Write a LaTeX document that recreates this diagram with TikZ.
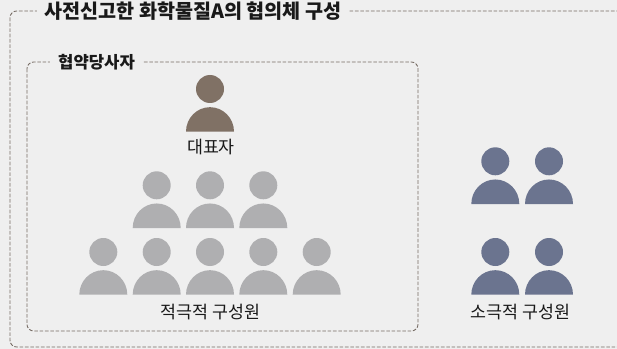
\documentclass[tikz,border=0pt]{standalone}
\usepackage{fontspec}
\setmainfont{Noto Sans CJK KR}
\definecolor{bggrey}{RGB}{239,239,239}
\definecolor{linegrey}{RGB}{118,108,100}
\definecolor{chief}{RGB}{128,113,101}
\definecolor{active}{RGB}{175,175,177}
\definecolor{passive}{RGB}{107,116,143}
\definecolor{ink}{RGB}{25,25,25}
\tikzstyle{base}=[x=0.75pt, y=-0.75pt, inner sep=0pt, outer sep=0pt]
\tikzstyle{frame}=[linegrey, line width=0.65pt, dash pattern=on 2.7pt off 1.3pt, rounded corners=5pt]
\tikzstyle{caption}=[ink, font=\fontsize{13}{15}\selectfont]
\tikzstyle{heading}=[ink, fill=bggrey, inner xsep=6pt, font=\fontsize{12.5}{15}\selectfont\bfseries]
\tikzstyle{bigheading}=[heading, font=\fontsize{14.7}{18}\selectfont\bfseries]
\newcommand*{\person}[3]{%
    \fill [#1] (#2,#3) circle [radius=10.5pt];
    \fill [#1] (#2-24,#3+42.7) arc [start angle=180, end angle=0, x radius=18pt, y radius=18.4pt] -- cycle;
}

\begin{document}
\begin{tikzpicture}[base]
    \path [use as bounding box, fill=bggrey] (0,0) rectangle (617,349);
    \draw [frame] (10,11) rectangle (640,347);
    \draw [frame] (27,62) rectangle (418,331);
    \node [bigheading, anchor=center] (title) at (193,11) {사전신고한 화학물질A의 협의체 구성};
    \node [heading, anchor=center] (party) at (96.5,62) {협약당사자};
    % chief
    \person{chief}{210}{89}
    \node [caption] (chieflabel) at (211,147) {대표자};
    % active members
    \foreach \x in {156.7,210,263.3} {\person{active}{\x}{185.3}}
    \foreach \x in {103.3,156.7,210,263.3,316.7} {\person{active}{\x}{252}}
    \node [caption] (activelabel) at (210.7,312) {적극적 구성원};
    % passive members
    \foreach \x in {495.3,549} {
        \person{passive}{\x}{161.3}
        \person{passive}{\x}{252}
    }
    \node [caption] (passivelabel) at (520.7,312) {소극적 구성원};
\end{tikzpicture}
\end{document}
